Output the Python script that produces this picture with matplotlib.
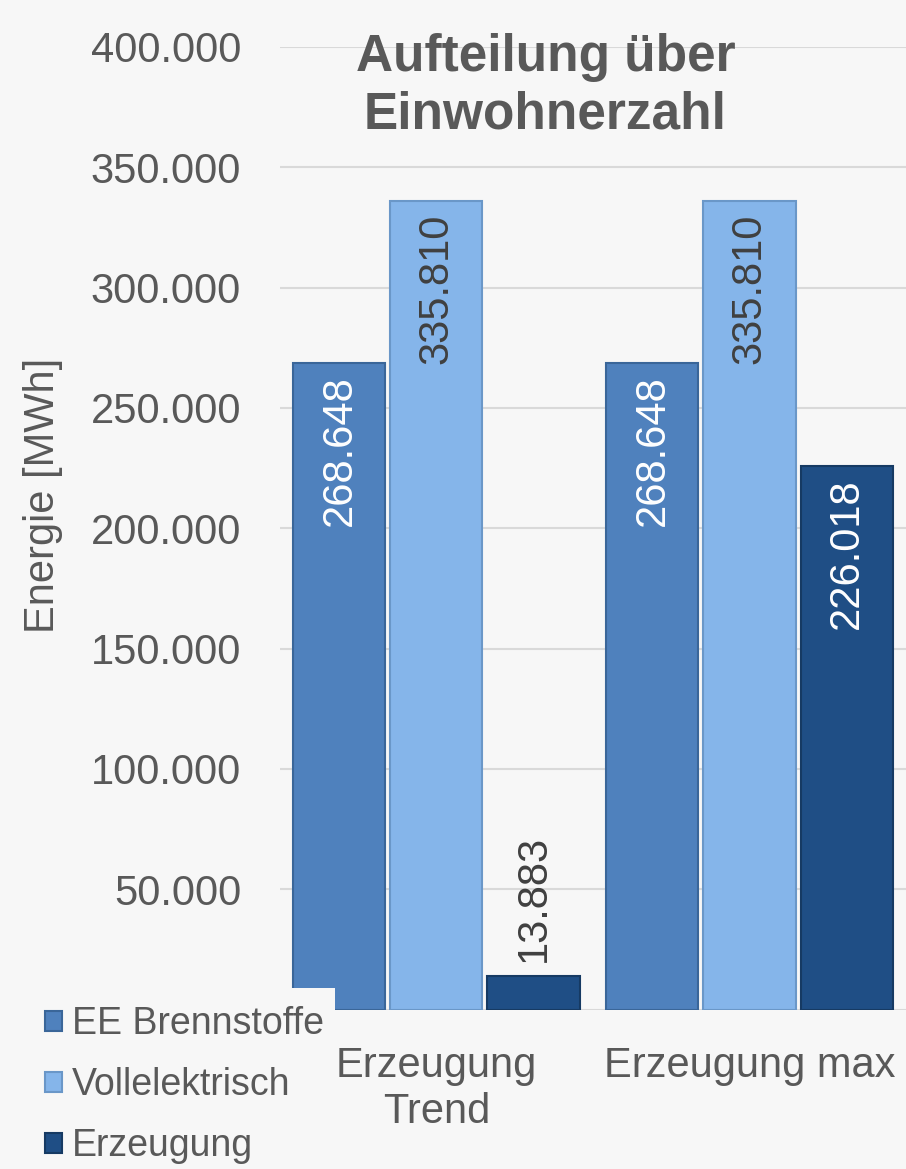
import numpy as np
import matplotlib.pyplot as plt
from matplotlib.patches import Rectangle
from matplotlib.ticker import FuncFormatter, MultipleLocator

plt.rcParams['font.family'] = ['Liberation Sans', 'DejaVu Sans']

# --- data ---
categories = ['Erzeugung\nTrend', 'Erzeugung max']
series_names = ['EE Brennstoffe', 'Vollelektrisch', 'Erzeugung']
ee_brennstoffe = [268648, 268648]
vollelektrisch = [335810, 335810]
erzeugung = [13883, 226018]
values = [ee_brennstoffe, vollelektrisch, erzeugung]

colors = ['#4F81BD', '#85B5EA', '#1F4E85']
edges = ['#3A6699', '#6A97C8', '#163A63']
label_colors = ['white', '#404040', 'white']

bg = '#F7F7F7'
grey = '#595959'


def fmt(v, p=None):
    # 0 wird im Original von der Legende verdeckt
    if v == 0:
        return ''
    return f'{int(v):,}'.replace(',', '.')


fig = plt.figure(figsize=(9.06, 11.69), dpi=100, facecolor=bg)
ax = fig.add_axes([0.309, 0.1364, 0.691, 0.8234], facecolor=bg)

x = np.arange(len(categories))
width = 0.294
step = 0.31

for i, (vals, name) in enumerate(zip(values, series_names)):
    pos = x + (i - 1) * step
    bars = ax.bar(pos, vals, width, color=colors[i], edgecolor=edges[i],
                  linewidth=1.5, label=name, zorder=3)
    for b, v in zip(bars, vals):
        txt = fmt(v)
        cx = b.get_x() + b.get_width() / 2
        if v > 50000:
            ax.annotate(txt, (cx, v), xytext=(0, -9), textcoords='offset points',
                        rotation=90, ha='center', va='top', fontsize=30,
                        color=label_colors[i], zorder=4)
        else:
            ax.annotate(txt, (cx, v), xytext=(0, 10), textcoords='offset points',
                        rotation=90, ha='center', va='bottom', fontsize=30,
                        color='#404040', zorder=4)

ax.set_xlim(-0.5, 1.5)
ax.set_ylim(0, 400000)
ax.yaxis.set_major_locator(MultipleLocator(50000))
ax.yaxis.set_major_formatter(FuncFormatter(fmt))
ax.grid(axis='y', color='#D9D9D9', linewidth=1.5, zorder=0)
for s in ax.spines.values():
    s.set_visible(False)
ax.tick_params(axis='both', length=0, labelsize=30, labelcolor=grey)
ax.tick_params(axis='y', pad=28)
ax.tick_params(axis='x', pad=26)
ax.set_xticks(x)
ax.set_xticklabels(categories)
ax.set_ylabel('Energie [MWh]', fontsize=30, color=grey)
ax.yaxis.set_label_coords(-0.346, 0.5345)

# Titel
fig.text(0.602, 1 - 58 / 1169, 'Aufteilung über', ha='center', va='center',
         fontsize=37, fontweight='bold', color=grey)
fig.text(0.602, 1 - 115 / 1169, 'Einwohnerzahl', ha='center', va='center',
         fontsize=37, fontweight='bold', color=grey)

# Legende mit Hintergrund, der die Achse unten links verdeckt
fig.add_artist(Rectangle((0, 0), 335 / 906, 181 / 1169, transform=fig.transFigure,
                         facecolor=bg, edgecolor='none', zorder=4))
leg = fig.legend(loc='lower left', bbox_to_anchor=(45 / 906, 5 / 1169), fontsize=27,
                 frameon=False, handlelength=0.45, handleheight=0.45,
                 handletextpad=0.27, labelspacing=0.66, borderpad=0,
                 borderaxespad=0)
leg.set_zorder(5)
for t in leg.get_texts():
    t.set_color(grey)

fig.savefig('out.png', dpi=100, facecolor=bg)
